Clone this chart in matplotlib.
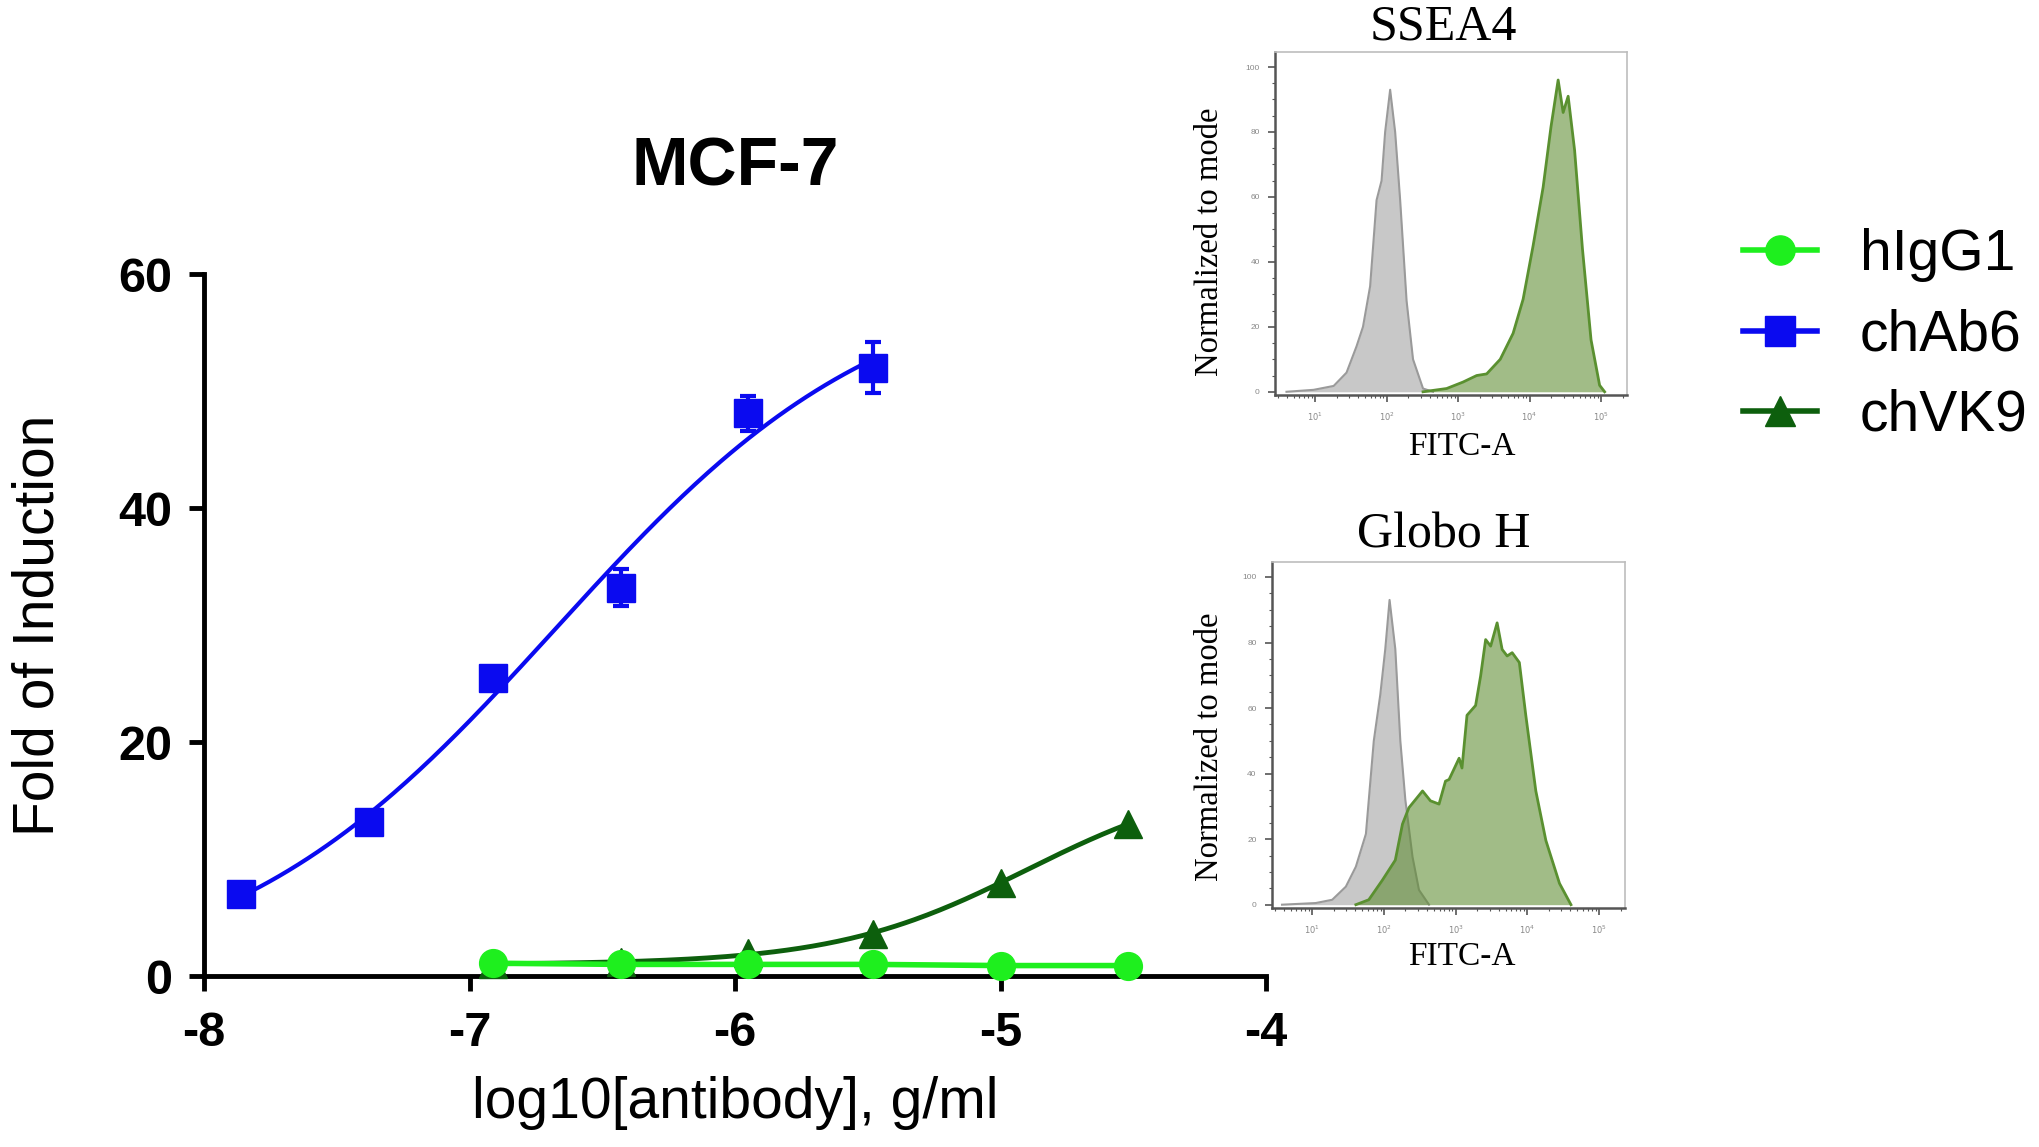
import numpy as np
import matplotlib
matplotlib.use("Agg")
import matplotlib.pyplot as plt
from matplotlib.ticker import FixedLocator, NullFormatter

plt.rcParams['font.family'] = ['Liberation Sans', 'DejaVu Sans']

# dose response, x = log10 g/ml
dose = [-7.86, -7.38, -6.91, -6.43, -5.95, -5.48, -5.00, -4.52]
chab6_x = dose[:6]
chab6_y = [7.0, 13.2, 25.5, 33.2, 48.1, 52.0]
chab6_err = [0.4, 0.6, 0.8, 1.6, 1.5, 2.2]
chvk9_x = dose[2:]
chvk9_y = [1.0, 1.2, 2.0, 3.6, 8.0, 13.0]
higg1_x = dose[2:]
higg1_y = [1.1, 1.0, 1.0, 1.0, 0.9, 0.9]

# flow histograms, x = log10 FITC-A, y = % of mode
ssea4_ctrl_x = [0.60, 0.98, 1.26, 1.44, 1.58, 1.67, 1.77, 1.86, 1.93, 1.98, 2.05, 2.12, 2.19, 2.28, 2.37, 2.51, 2.65]
ssea4_ctrl_y = [0, 0.6, 1.8, 5.9, 14, 20, 32.5, 59, 65, 80, 93, 80, 59, 28, 10, 1, 0]
ssea4_ab_x = [2.51, 2.84, 3.07, 3.26, 3.40, 3.59, 3.77, 3.91, 4.05, 4.19, 4.30, 4.40, 4.47, 4.54, 4.63, 4.74, 4.86, 4.98, 5.05]
ssea4_ab_y = [0, 1, 3, 5, 5.5, 10, 18, 28.5, 45, 63, 81.6, 96, 86, 91, 74.4, 44, 16, 2, 0]
globo_ctrl_x = [0.58, 1.05, 1.28, 1.47, 1.61, 1.75, 1.86, 1.95, 2.02, 2.08, 2.16, 2.23, 2.30, 2.40, 2.49, 2.63]
globo_ctrl_y = [0, 0.5, 1.5, 5.5, 11.6, 21.6, 50, 64, 78, 93, 78, 50, 32, 14.6, 4.5, 0]
globo_ab_x = [1.61, 1.79, 1.98, 2.16, 2.26, 2.35, 2.54, 2.65, 2.77, 2.86, 2.91, 3.05, 3.09, 3.16, 3.28, 3.35,
              3.42, 3.49, 3.58, 3.65, 3.72, 3.79, 3.89, 3.98, 4.12, 4.26, 4.45, 4.61]
globo_ab_y = [0, 1.5, 7.5, 13.6, 24.6, 29.6, 34.7, 31.7, 30.7, 37.7, 38.2, 44.7, 41.7, 57.8, 60.8, 69.8,
              80.9, 78.9, 86, 77.9, 75.9, 76.9, 73.9, 57.8, 34.7, 19.6, 6.5, 0]

BLUE = '#0a0af0'
LIME = '#1eef1e'
DKGREEN = '#0d5f0d'


def fit4pl(x, y, c_grid, h_grid):
    # grid over logEC50 / hill, bottom+top by least squares
    x = np.asarray(x)
    y = np.asarray(y)
    best = None
    for c in c_grid:
        for h in h_grid:
            s = 1.0 / (1.0 + 10 ** ((c - x) * h))
            A = np.column_stack([1 - s, s])
            coef = np.linalg.lstsq(A, y, rcond=None)[0]
            r = np.sum((A @ coef - y) ** 2)
            if best is None or r < best[0]:
                best = (r, coef[0], coef[1], c, h)
    return best[1:]


def curve(params, x):
    b, t, c, h = params
    return b + (t - b) / (1.0 + 10 ** ((c - x) * h))


fig = plt.figure(figsize=(20.4, 11.47), dpi=100)
ax = fig.add_axes([0.1, 0.149, 0.5206, 0.612])

p_ab6 = fit4pl(chab6_x, chab6_y, np.linspace(-7.5, -5.5, 81), np.linspace(0.3, 2.5, 45))
p_vk9 = fit4pl(chvk9_x, chvk9_y, np.linspace(-5.5, -3.0, 51), np.linspace(0.3, 2.5, 45))

xs = np.linspace(chab6_x[0], chab6_x[-1], 200)
ax.plot(xs, curve(p_ab6, xs), color=BLUE, lw=3, zorder=3)
xs2 = np.linspace(chvk9_x[0], chvk9_x[-1], 200)
ax.plot(xs2, curve(p_vk9, xs2), color=DKGREEN, lw=3.5, zorder=3)

ax.errorbar(chab6_x, chab6_y, yerr=chab6_err, fmt='none', ecolor=BLUE, elinewidth=3,
            capsize=6, capthick=3, zorder=4)
ax.plot(chvk9_x, chvk9_y, ls='none', marker='^', ms=20, color=DKGREEN, zorder=4, clip_on=False)
ax.plot(chab6_x, chab6_y, ls='none', marker='s', ms=20, color=BLUE, zorder=5, clip_on=False)
ax.plot(higg1_x, higg1_y, '-', marker='o', ms=20, lw=4, color=LIME, zorder=6, clip_on=False)

# proxies for the legend
h1, = ax.plot([], [], '-', marker='o', ms=21, lw=4, color=LIME, label='hIgG1')
h2, = ax.plot([], [], '-', marker='s', ms=21, lw=4, color=BLUE, label='chAb6')
h3, = ax.plot([], [], '-', marker='^', ms=21, lw=4, color=DKGREEN, label='chVK9')

ax.set_xlim(-8, -4)
ax.set_ylim(0, 60)
ax.set_xticks([-8, -7, -6, -5, -4])
ax.set_yticks([0, 20, 40, 60])
ax.set_xticklabels(['-8', '-7', '-6', '-5', '-4'])
for s in ['top', 'right']:
    ax.spines[s].set_visible(False)
for s in ['left', 'bottom']:
    ax.spines[s].set_linewidth(3.5)
ax.tick_params(axis='both', length=11, width=3.5, labelsize=35)
ax.tick_params(axis='x', pad=14)
ax.tick_params(axis='y', pad=12)
for lab in ax.get_xticklabels() + ax.get_yticklabels():
    lab.set_fontweight('bold')

ax.set_ylabel('Fold of Induction', fontsize=41)
ax.yaxis.set_label_coords(-0.13, 0.5)
ax.set_xlabel('log10[antibody], g/ml', fontsize=41)
ax.xaxis.set_label_coords(0.5, -0.142)
fig.text(0.3603, 0.854, 'MCF-7', fontsize=49, fontweight='bold', ha='center', va='center')

fig.legend(handles=[h1, h2, h3], loc='upper left', bbox_to_anchor=(0.8544, 0.801),
           frameon=False, fontsize=41, handlelength=1.3, handletextpad=0.75,
           labelspacing=0.46, borderpad=0, borderaxespad=0)


def histo_panel(rect, title, ctrl_x, ctrl_y, ab_x, ab_y, title_y, ylab_y, fitc_y):
    a = fig.add_axes(rect)
    cx = 10 ** np.asarray(ctrl_x)
    gx = 10 ** np.asarray(ab_x)
    a.fill_between(cx, ctrl_y, 0, color='#c8c8c8', lw=0, zorder=2)
    a.plot(cx, ctrl_y, color='#9a9a9a', lw=1.5, zorder=3)
    a.fill_between(gx, ab_y, 0, color='#5e8c31', alpha=0.58, lw=0, zorder=4)
    a.plot(gx, ab_y, color='#5a9030', lw=2, zorder=5)
    a.set_xscale('log')
    a.set_xlim(2.75, 2.3e5)
    a.set_ylim(-1, 104.6)
    a.set_xticks([10, 100, 1000, 1e4, 1e5])
    a.set_xticklabels(['$10^1$', '$10^2$', '$10^3$', '$10^4$', '$10^5$'])
    a.set_yticks([0, 20, 40, 60, 80, 100])
    a.yaxis.set_minor_locator(FixedLocator(np.arange(0, 101, 5)))
    a.yaxis.set_minor_formatter(NullFormatter())
    a.tick_params(which='major', length=5, width=1.2, color='#555555', labelsize=6,
                  labelcolor='#888888', pad=6)
    a.tick_params(which='minor', length=2.5, width=0.8, color='#555555')
    for s in ['top', 'right']:
        a.spines[s].set_color('#bdbdbd')
        a.spines[s].set_linewidth(1.2)
    for s in ['left', 'bottom']:
        a.spines[s].set_color('#555555')
        a.spines[s].set_linewidth(1.8)
    fig.text(0.7075, title_y, title, fontsize=36, family='Liberation Serif',
             ha='center', va='center')
    fig.text(0.593, ylab_y, 'Normalized to mode', fontsize=23.5, family='Liberation Serif',
             rotation=90, ha='center', va='center')
    fig.text(0.7167, fitc_y, 'FITC-A', fontsize=24, family='Liberation Serif',
             ha='center', va='center')
    return a


histo_panel([0.625, 0.6556, 0.1725, 0.299], 'SSEA4', ssea4_ctrl_x, ssea4_ctrl_y,
            ssea4_ab_x, ssea4_ab_y, 1 - 27 / 1147, 1 - 242 / 1147, 1 - 447 / 1147)
histo_panel([0.6235, 0.2084, 0.173, 0.3017], 'Globo H', globo_ctrl_x, globo_ctrl_y,
            globo_ab_x, globo_ab_y, 1 - 535 / 1147, 1 - 747 / 1147, 1 - 957 / 1147)

fig.savefig('out.png', dpi=100)
